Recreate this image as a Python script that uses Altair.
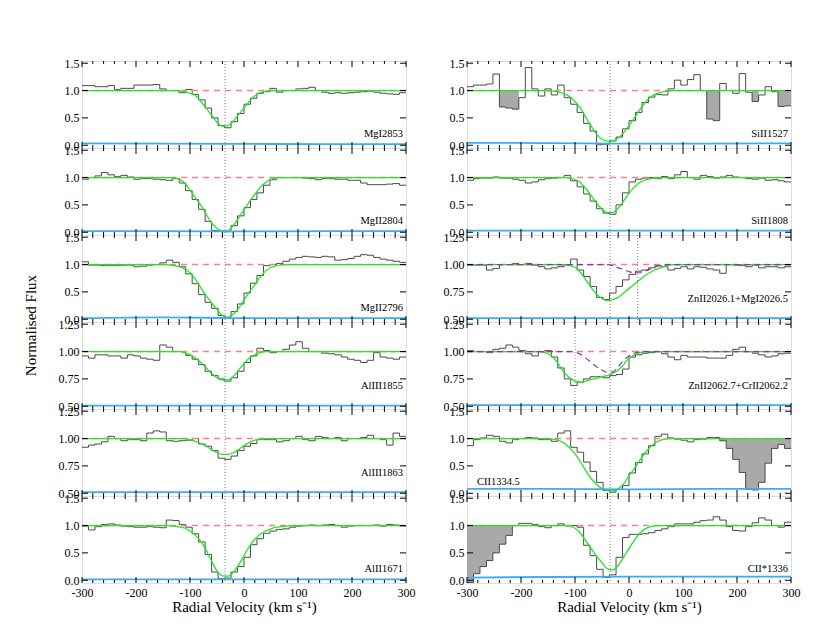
import altair as alt
import pandas as pd

FONT = "Liberation Serif"
W, H = 324, 87

# velocity bin left edges (km/s), 12 km/s pixels
V_EDGES = list(range(-300, 300, 12))
X_MAJOR = [-300, -200, -100, 0, 100, 200, 300]
X_MINOR = [v for v in range(-300, 301, 20) if v % 100 != 0]

FIT_V = [-300, -180, -170, -160, -150, -140, -130, -120, -110, -100, -90, -80, -70, -60,
         -50, -40, -30, -20, -10, 0, 10, 20, 30, 40, 50, 60, 70, 80, 90, 100, 300]
ERR_V = [-300, -150, 0, 150, 300]

# ---------------- observed flux (one value per 12 km/s pixel) ----------------
MgI2853 = [1.09, 1.09, 1.07, 1.07, 1.09, 1.02, 1.04, 1.04, 1.10, 1.10,
           1.10, 1.11, 1.03, 1.00, 1.00, 0.96, 1.02, 0.93, 0.83, 0.68,
           0.50, 0.36, 0.32, 0.43, 0.58, 0.75, 0.86, 0.95, 0.98, 1.04,
           0.97, 1.00, 1.00, 1.03, 1.04, 1.06, 1.00, 0.97, 0.95, 0.96,
           0.95, 0.96, 0.97, 0.98, 0.99, 0.97, 0.95, 0.94, 0.93, 0.96]
MgII2804 = [0.97, 1.00, 1.03, 1.09, 1.05, 1.02, 1.04, 1.01, 0.97, 0.98,
            0.98, 0.97, 0.96, 0.95, 0.98, 0.90, 0.76, 0.60, 0.42, 0.20,
            0.03, 0.02, 0.01, 0.12, 0.30, 0.45, 0.60, 0.72, 0.86, 0.96,
            1.00, 1.00, 1.00, 1.00, 0.99, 0.98, 0.96, 0.98, 0.98, 0.97,
            0.97, 0.95, 0.95, 0.90, 0.87, 0.87, 0.87, 0.88, 0.89, 0.86]
MgII2796 = [1.05, 0.99, 0.99, 0.98, 0.98, 0.98, 0.99, 0.99, 0.96, 0.97,
            0.99, 1.00, 1.03, 1.08, 1.04, 0.96, 0.83, 0.65, 0.45, 0.31,
            0.20, 0.07, 0.035, 0.14, 0.28, 0.48, 0.66, 0.80, 0.98, 1.00,
            1.02, 1.06, 1.10, 1.13, 1.15, 1.14, 1.13, 1.15, 1.14, 1.08,
            1.09, 1.11, 1.15, 1.18, 1.17, 1.13, 1.10, 1.08, 1.06, 1.04]
AlIII1855 = [0.96, 0.94, 0.97, 0.97, 0.96, 0.96, 0.94, 0.97, 0.96, 0.94,
             0.93, 0.92, 1.06, 1.04, 1.00, 1.00, 0.965, 0.93, 0.88, 0.82,
             0.78, 0.75, 0.73, 0.76, 0.82, 0.90, 0.96, 1.03, 1.01, 0.99,
             1.00, 1.02, 1.06, 1.09, 1.03, 1.00, 1.00, 0.985, 0.98, 0.97,
             0.95, 0.93, 0.92, 0.90, 0.92, 0.99, 0.95, 0.94, 0.93, 0.95]
AlIII1863 = [0.92, 0.94, 0.95, 0.97, 1.02, 1.00, 0.98, 0.99, 0.99, 0.98,
             1.05, 1.07, 1.06, 0.98, 0.975, 0.98, 0.985, 1.00, 0.95, 0.93,
             0.89, 0.82, 0.81, 0.84, 0.89, 0.93, 0.955, 0.99, 0.99, 0.99,
             0.97, 0.98, 1.00, 1.02, 0.99, 0.98, 1.02, 1.01, 1.00, 1.01,
             0.98, 1.00, 1.00, 1.01, 1.03, 1.00, 0.99, 0.94, 1.05, 1.02]
AlII1671 = [0.99, 0.92, 0.98, 1.02, 1.03, 1.01, 0.99, 0.98, 0.97, 0.97,
            0.98, 0.97, 0.96, 1.10, 1.09, 1.02, 0.97, 0.85, 0.70, 0.47,
            0.15, 0.03, 0.04, 0.15, 0.25, 0.42, 0.65, 0.76, 0.86, 0.90,
            0.93, 0.94, 0.97, 0.99, 1.00, 1.01, 1.00, 1.01, 1.02, 1.00,
            0.97, 0.99, 1.00, 1.00, 1.00, 1.01, 0.99, 1.02, 1.01, 0.99]
SiII1527 = [1.07, 1.10, 1.10, 1.12, 1.30, 0.70, 0.68, 0.66, 0.87, 1.42,
            1.03, 0.90, 1.03, 0.92, 1.10, 0.87, 0.75, 0.60, 0.40, 0.26,
            0.01, 0.02, 0.08, 0.15, 0.30, 0.45, 0.60, 0.78, 0.88, 0.93,
            0.92, 1.03, 1.19, 1.10, 1.20, 1.29, 1.00, 0.48, 0.45, 1.13,
            1.00, 0.95, 1.31, 0.97, 0.80, 0.92, 1.07, 0.98, 0.71, 0.72]
SiII1808 = [0.95, 0.98, 0.99, 0.99, 1.01, 0.99, 0.99, 0.97, 0.95, 0.90,
            0.92, 0.96, 0.98, 0.99, 1.00, 1.04, 0.94, 0.83, 0.70, 0.57,
            0.43, 0.35, 0.33, 0.50, 0.72, 0.92, 0.97, 0.99, 1.00, 0.98,
            1.02, 0.98, 1.05, 1.11, 1.00, 0.97, 1.04, 1.02, 0.99, 1.01,
            1.04, 1.01, 1.00, 0.98, 0.97, 0.99, 0.95, 0.96, 0.94, 0.92]
ZnII2026 = [0.995, 0.995, 0.995, 0.95, 0.965, 1.00, 1.00, 1.01, 1.00, 1.01,
            0.995, 0.98, 0.96, 0.97, 0.98, 1.00, 1.05, 0.95, 0.89, 0.80,
            0.70, 0.68, 0.74, 0.80, 0.86, 0.91, 0.94, 0.95, 0.97, 0.99,
            0.98, 0.95, 0.965, 0.98, 0.96, 0.98, 0.975, 0.96, 0.95, 0.92,
            1.00, 0.995, 0.99, 0.98, 0.995, 0.97, 0.98, 0.98, 0.97, 0.98]
ZnII2062 = [1.01, 1.00, 1.00, 0.99, 1.02, 1.03, 1.06, 1.04, 1.01, 0.98,
            0.96, 1.00, 1.01, 0.95, 0.85, 0.75, 0.69, 0.72, 0.75, 0.77,
            0.77, 0.76, 0.78, 0.79, 0.84, 0.95, 0.97, 0.985, 0.99, 1.00,
            0.98, 0.95, 0.925, 0.965, 0.95, 0.95, 0.95, 0.94, 0.94, 0.94,
            0.965, 1.02, 1.04, 1.00, 0.985, 0.97, 0.95, 0.96, 0.98, 0.985]
CII1334 = [0.87, 0.98, 1.01, 1.06, 1.04, 0.95, 0.92, 0.98, 1.00, 1.02,
           1.01, 0.98, 0.98, 0.95, 1.10, 1.14, 0.84, 0.75, 0.57, 0.40,
           0.20, 0.05, 0.02, 0.07, 0.14, 0.37, 0.56, 0.72, 0.87, 1.04,
           1.08, 1.01, 0.99, 0.97, 0.94, 0.98, 0.99, 1.02, 1.02, 0.96,
           0.82, 0.62, 0.38, 0.07, 0.06, 0.20, 0.55, 0.82, 0.89, 0.82]
CIIs1336 = [-0.04, 0.12, 0.25, 0.36, 0.50, 0.66, 0.82, 1.00, 1.04, 1.04,
            1.02, 0.98, 0.96, 1.00, 1.03, 1.00, 1.00, 0.97, 0.64, 0.45,
            0.20, 0.05, 0.10, 0.42, 0.78, 0.84, 0.84, 0.85, 0.87, 0.91,
            0.94, 0.98, 1.03, 1.03, 1.03, 1.06, 1.09, 1.10, 1.16, 1.10,
            0.98, 0.91, 0.90, 0.98, 1.05, 1.14, 1.10, 1.00, 0.97, 1.06]

# ---------------- model fits (total, on FIT_V) ----------------
FIT_MgI2853 = [1, 1, 1, 1, 1, 1, 1, 0.995, 0.98, 0.95, 0.91, 0.8, 0.68, 0.55, 0.42, 0.35,
               0.36, 0.44, 0.56, 0.68, 0.8, 0.9, 0.96, 0.99, 1, 1, 1, 1, 1, 1, 1]
FIT_MgII2804 = [1, 1, 1, 1, 1, 1, 0.995, 0.97, 0.9, 0.77, 0.63, 0.49, 0.33, 0.17, 0.07, 0.025,
                0.03, 0.12, 0.26, 0.41, 0.56, 0.69, 0.82, 0.91, 0.97, 0.995, 1, 1, 1, 1, 1]
FIT_MgII2796 = [1, 1, 1, 1, 1, 0.995, 0.98, 0.96, 0.92, 0.85, 0.73, 0.58, 0.43, 0.3, 0.18, 0.07,
                0.035, 0.09, 0.2, 0.35, 0.5, 0.63, 0.77, 0.88, 0.95, 0.98, 0.995, 1, 1, 1, 1]
FIT_AlIII1855 = [1, 1, 1, 1, 1, 1, 1, 1, 0.99, 0.97, 0.94, 0.9, 0.85, 0.8, 0.76, 0.74,
                 0.74, 0.77, 0.83, 0.89, 0.94, 0.97, 0.99, 1, 1, 1, 1, 1, 1, 1, 1]
FIT_AlIII1863 = [1, 1, 1, 1, 1, 1, 1, 1, 1, 0.99, 0.975, 0.955, 0.93, 0.9, 0.87, 0.855,
                 0.855, 0.87, 0.9, 0.935, 0.965, 0.985, 0.995, 1, 1, 1, 1, 1, 1, 1, 1]
FIT_AlII1671 = [1, 1, 1, 1, 1, 0.995, 0.99, 0.975, 0.955, 0.9, 0.82, 0.71, 0.55, 0.35, 0.17, 0.08,
                0.075, 0.14, 0.28, 0.45, 0.62, 0.75, 0.84, 0.9, 0.94, 0.97, 0.98, 0.99, 1, 1, 1]
FIT_SiII1527 = [1, 1, 1, 1, 1, 0.99, 0.97, 0.94, 0.89, 0.8, 0.68, 0.51, 0.35, 0.2, 0.11, 0.075,
                0.08, 0.13, 0.23, 0.36, 0.5, 0.65, 0.78, 0.88, 0.94, 0.97, 0.99, 1, 1, 1, 1]
FIT_SiII1808 = [1, 1, 1, 1, 1, 1, 1, 1, 0.995, 0.96, 0.91, 0.8, 0.67, 0.53, 0.42, 0.36,
                0.365, 0.44, 0.57, 0.71, 0.83, 0.91, 0.955, 0.98, 0.995, 1, 1, 1, 1, 1, 1]
FIT_ZnII2026 = [1, 1, 1, 1, 1, 1, 1, 0.995, 0.99, 0.975, 0.93, 0.86, 0.79, 0.73, 0.69, 0.67,
                0.68, 0.7, 0.74, 0.78, 0.82, 0.86, 0.9, 0.93, 0.955, 0.975, 0.99, 1, 1, 1, 1]
FIT_ZnII2062 = [1, 1, 1, 0.995, 0.98, 0.945, 0.88, 0.81, 0.76, 0.73, 0.72, 0.73, 0.745, 0.755, 0.77, 0.78,
                0.8, 0.83, 0.88, 0.94, 0.97, 0.99, 1, 1, 1, 1, 1, 1, 1, 1, 1]
FIT_CII1334 = [1, 1, 1, 1, 1, 0.99, 0.965, 0.92, 0.83, 0.72, 0.58, 0.41, 0.27, 0.16, 0.085, 0.05,
               0.045, 0.08, 0.17, 0.32, 0.45, 0.6, 0.74, 0.85, 0.93, 0.975, 0.995, 1, 1, 1, 1]
FIT_CIIs1336 = [1, 1, 1, 1, 1, 1, 1, 1, 0.99, 0.95, 0.86, 0.72, 0.58, 0.44, 0.32, 0.21,
                0.19, 0.27, 0.42, 0.58, 0.73, 0.86, 0.94, 0.98, 0.995, 1, 1, 1, 1, 1, 1]

# single-component fits (dashed purple)
COMP_MgI2026 = [1, 1, 1, 1, 1, 1, 1, 1, 1, 1, 1, 1, 1, 1, 1, 1,
                0.99, 0.97, 0.955, 0.935, 0.925, 0.925, 0.94, 0.96, 0.98, 0.993, 1, 1, 1, 1, 1]
COMP_ZnII2062 = [1, 1, 1, 1, 1, 1, 1, 1, 1, 0.995, 0.975, 0.94, 0.9, 0.86, 0.83, 0.81,
                 0.815, 0.86, 0.92, 0.96, 0.985, 0.997, 1, 1, 1, 1, 1, 1, 1, 1, 1]

# ---------------- error spectra ----------------
ERR_MgI2853 = [0.035, 0.03, 0.025, 0.02, 0.02]
ERR_MgII2804 = [0.02, 0.02, 0.015, 0.02, 0.02]
ERR_MgII2796 = [0.02, 0.035, 0.02, 0.02, 0.02]
ERR_AlIII1855 = [0.505, 0.505, 0.505, 0.505, 0.505]
ERR_AlIII1863 = [0.51, 0.51, 0.51, 0.51, 0.51]
ERR_AlII1671 = [0.015, 0.015, 0.015, 0.015, 0.015]
ERR_SiII1527 = [0.045, 0.04, 0.03, 0.03, 0.035]
ERR_SiII1808 = [0.03, 0.03, 0.03, 0.03, 0.03]
ERR_ZnII2026 = [0.51, 0.51, 0.51, 0.51, 0.51]
ERR_ZnII2062 = [0.51, 0.51, 0.51, 0.51, 0.51]
ERR_CII1334 = [0.08, 0.08, 0.07, 0.08, 0.08]
ERR_CIIs1336 = [0.05, 0.06, 0.065, 0.065, 0.065]

# blended (shaded) velocity ranges
BLEND_SiII1527 = [(-240, -204), (144, 168), (228, 240), (276, 300)]
BLEND_CII1334 = [(168, 300)]
BLEND_CIIs1336 = [(-300, -216)]

V_SYS = -35  # dotted line, main component

C_DATA = "#4a4a4a"
C_FIT = "#22e622"
C_CONT = "#ff7f7f"
C_ERR = "#3aaef0"
C_COMP = "#7b3fa6"
C_FILL = "#a9a9a9"


def step_df(flux):
    return pd.DataFrame({"v": V_EDGES + [300], "f": list(flux) + [flux[-1]]})


def fill_df(flux, ranges):
    rows = []
    for k, (a, b) in enumerate(ranges):
        seg = [(v, f) for v, f in zip(V_EDGES, flux) if a <= v < b]
        for v, f in seg:
            rows.append({"v": v, "f": f, "top": 1.0, "seg": k})
        rows.append({"v": b, "f": seg[-1][1], "top": 1.0, "seg": k})
    return pd.DataFrame(rows)


def panel(name, flux, fit, err, kind="A", comp=None, blends=None, extra_lines=(),
          bottom=False, label_left=False, ytitle=False):
    if kind == "A":
        dom, yvals, fmt, lab_dy = [-0.05, 1.54], [0.0, 0.5, 1.0, 1.5], ".1f", 14
    else:
        dom, yvals, fmt, lab_dy = [0.475, 1.27], [0.5, 0.75, 1.0, 1.25], ".2f", 23
    xscale = alt.Scale(domain=[-300, 300], nice=False, zero=False)
    yscale = alt.Scale(domain=dom, nice=False, zero=False)
    if bottom:
        xaxis = alt.Axis(values=X_MAJOR, labelExpr="'' + datum.value", ticks=False, domain=False,
                         grid=False, labelFont=FONT, labelFontSize=12, labelColor="black",
                         labelPadding=4, labelFlush=False, labelOverlap=False,
                         title="Radial Velocity (km s\u207b\u00b9)", titleFont=FONT, titleFontSize=15,
                         titleFontWeight="normal", titleColor="black", titlePadding=1)
    else:
        xaxis = None
    yargs = dict(values=yvals, format=fmt, ticks=False, domain=False, grid=False,
                 labelFont=FONT, labelFontSize=12, labelColor="black", labelPadding=3,
                 labelOverlap=False, labelFlush=False)
    if ytitle:
        yaxis = alt.Axis(title="Normalised Flux", titleFont=FONT, titleFontSize=15,
                         titleFontWeight="normal", titleColor="black", titleX=-52, titleY=90,
                         titleAlign="center", titleBaseline="middle", titleAngle=270, **yargs)
    else:
        yaxis = alt.Axis(title=None, **yargs)
    X = alt.X("v:Q", scale=xscale, axis=xaxis)
    Y = alt.Y("f:Q", scale=yscale, axis=yaxis)

    layers = []
    if blends:
        layers.append(alt.Chart(fill_df(flux, blends)).mark_area(
            interpolate="step-after", color=C_FILL, opacity=1).encode(
            x=X, y=Y, y2="top:Q", detail="seg:N"))
    layers.append(alt.Chart(step_df(flux)).mark_line(
        interpolate="step-after", color=C_DATA, strokeWidth=1).encode(x=X, y=Y))
    layers.append(alt.Chart(pd.DataFrame({"v": [-300, 300], "f": [1.0, 1.0]})).mark_line(
        color=C_CONT, strokeWidth=1.5, strokeDash=[6, 5]).encode(x=X, y=Y))
    layers.append(alt.Chart(pd.DataFrame({"v": FIT_V, "f": fit})).mark_line(
        color=C_FIT, strokeWidth=1.3, interpolate="monotone").encode(x=X, y=Y))
    if comp is not None:
        layers.append(alt.Chart(pd.DataFrame({"v": FIT_V, "f": comp})).mark_line(
            color=C_COMP, strokeWidth=1.2, strokeDash=[6, 4], interpolate="monotone").encode(x=X, y=Y))
    layers.append(alt.Chart(pd.DataFrame({"v": ERR_V, "f": err})).mark_line(
        color=C_ERR, strokeWidth=1.8, interpolate="monotone").encode(x=X, y=Y))
    layers.append(alt.Chart(pd.DataFrame({"v": [V_SYS] + list(extra_lines)})).mark_rule(
        color="#808080", strokeWidth=1, strokeDash=[1, 2]).encode(x=X))
    # inward ticks
    maj = pd.DataFrame({"v": X_MAJOR})
    mino = pd.DataFrame({"v": X_MINOR})
    tick = dict(color="black", strokeWidth=1)
    layers.append(alt.Chart(maj).mark_rule(**tick).encode(x=X, y=alt.value(0), y2=alt.value(6)))
    layers.append(alt.Chart(maj).mark_rule(**tick).encode(x=X, y=alt.value(H), y2=alt.value(H - 6)))
    layers.append(alt.Chart(mino).mark_rule(**tick).encode(x=X, y=alt.value(0), y2=alt.value(3)))
    layers.append(alt.Chart(mino).mark_rule(**tick).encode(x=X, y=alt.value(H), y2=alt.value(H - 3)))
    ydf = pd.DataFrame({"f": yvals})
    layers.append(alt.Chart(ydf).mark_rule(**tick).encode(y=Y, x=alt.value(0), x2=alt.value(6)))
    layers.append(alt.Chart(ydf).mark_rule(**tick).encode(y=Y, x=alt.value(W), x2=alt.value(W - 6)))
    # line identification
    if label_left:
        txt = alt.Chart(pd.DataFrame({"label": [name]})).mark_text(
            align="left", baseline="middle", font=FONT, fontSize=10.5, color="black").encode(
            x=alt.value(10), y=alt.value(H - lab_dy), text="label:N")
    else:
        txt = alt.Chart(pd.DataFrame({"label": [name]})).mark_text(
            align="right", baseline="middle", font=FONT, fontSize=10.5, color="black").encode(
            x=alt.value(W - 3), y=alt.value(H - lab_dy), text="label:N")
    layers.append(txt)
    return alt.layer(*layers).properties(width=W, height=H)


left = [
    panel("MgI2853", MgI2853, FIT_MgI2853, ERR_MgI2853),
    panel("MgII2804", MgII2804, FIT_MgII2804, ERR_MgII2804),
    panel("MgII2796", MgII2796, FIT_MgII2796, ERR_MgII2796, ytitle=True),
    panel("AlIII1855", AlIII1855, FIT_AlIII1855, ERR_AlIII1855, kind="B"),
    panel("AlIII1863", AlIII1863, FIT_AlIII1863, ERR_AlIII1863, kind="B"),
    panel("AlII1671", AlII1671, FIT_AlII1671, ERR_AlII1671, bottom=True),
]
right = [
    panel("SiII1527", SiII1527, FIT_SiII1527, ERR_SiII1527, blends=BLEND_SiII1527),
    panel("SiII1808", SiII1808, FIT_SiII1808, ERR_SiII1808),
    panel("ZnII2026.1+MgI2026.5", ZnII2026, FIT_ZnII2026, ERR_ZnII2026, kind="B",
          comp=COMP_MgI2026, extra_lines=[16]),
    panel("ZnII2062.7+CrII2062.2", ZnII2062, FIT_ZnII2062, ERR_ZnII2062, kind="B",
          comp=COMP_ZnII2062, extra_lines=[-100]),
    panel("CII1334.5", CII1334, FIT_CII1334, ERR_CII1334, blends=BLEND_CII1334, label_left=True),
    panel("CII*1336", CIIs1336, FIT_CIIs1336, ERR_CIIs1336, blends=BLEND_CIIs1336, bottom=True),
]

cells = []
for a, b in zip(left, right):
    cells += [a, b]

chart = alt.concat(*cells, columns=2, spacing={"row": 0, "column": 61}, bounds="flush").properties(
    padding={"left": 14, "top": 48, "right": 5, "bottom": 5}
).configure_view(stroke="black", strokeWidth=1).configure(background="white")

chart.save("out.html", embed_options={"renderer": "svg", "actions": False})
